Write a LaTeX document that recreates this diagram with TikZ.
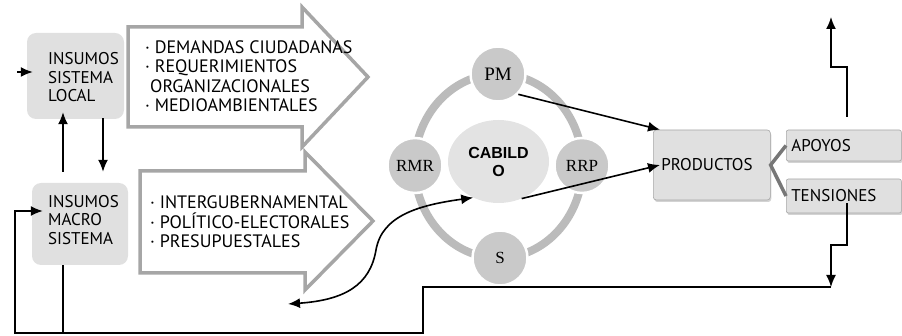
\documentclass[tikz,border=0pt]{standalone}
\usepackage{fontspec}
\setmainfont{PT Sans}
\newfontfamily\circfont{Liberation Serif}
\newfontfamily\cabfont{Liberation Sans}
\usetikzlibrary{arrows.meta,shadows,shapes.geometric}
\definecolor{boxgray}{HTML}{E0E0E0}
\definecolor{arrowgray}{HTML}{A6A6A6}
\definecolor{ringgray}{HTML}{BBBBBB}
\definecolor{circgray}{HTML}{C9C9C9}
\definecolor{ellgray}{HTML}{E3E3E3}
\definecolor{linkgray}{HTML}{777777}
\tikzset{
	insumo/.style={fill=boxgray, rounded corners=9pt, minimum width=97pt, minimum height=86pt, inner sep=0pt},
	lbl/.style={align=left, inner sep=0pt, font=\fontsize{17}{18.5}\selectfont},
	arrowlbl/.style={align=left, inner sep=0pt, font=\fontsize{18}{19.5}\selectfont},
	bigarrow/.style={draw=arrowgray, line width=3.5pt, fill=white, line join=miter},
	actor/.style={circle, fill=circgray, draw=white, line width=2.5pt, minimum size=55pt, inner sep=0pt, font=\circfont\fontsize{17}{17}\selectfont},
	outbox/.style={fill=boxgray, draw=gray!70, line width=0.6pt, rounded corners=3pt, align=left, inner xsep=5pt,
		font=\fontsize{17}{18.5}\selectfont, drop shadow={opacity=0.35, shadow xshift=1pt, shadow yshift=-2pt}},
	flecha/.style={-{Latex[length=12pt,width=10pt]}, line width=1.6pt},
}
\begin{document}
\begin{tikzpicture}[x=1pt,y=-1pt]
	\useasboundingbox (0,0) rectangle (902,336);
	% flechas grandes
	\draw[bigarrow] (128,27) -- (302,27) -- (302,7) -- (368,77) -- (302,147) -- (302,127) -- (128,127) -- cycle;
	\draw[bigarrow] (140,171) -- (305,171) -- (305,152) -- (373,221) -- (305,290) -- (305,273) -- (140,273) -- cycle;
	\node[arrowlbl, anchor=west] (demandas) at (145,76) {· DEMANDAS CIUDADANAS\\· REQUERIMIENTOS\\\hspace{5pt}ORGANIZACIONALES\\· MEDIOAMBIENTALES};
	\node[arrowlbl, anchor=west] (inter) at (150,222) {· INTERGUBERNAMENTAL\\· POLÍTICO-ELECTORALES\\· PRESUPUESTALES};

	% insumos
	\node[insumo] (local) at (75.5,76) {};
	\node[lbl, anchor=west] (localtxt) at (48,77.5) {INSUMOS\\SISTEMA\\LOCAL};
	\node[insumo, minimum width=96pt, minimum height=82pt] (macro) at (80,224) {};
	\node[lbl, anchor=west] (macrotxt) at (48,220) {INSUMOS\\MACRO\\SISTEMA};
	\coordinate (entrada) at (17,72);
	\draw[flecha] (entrada) -- ([xshift=6pt,yshift=4pt]local.west);
	\draw[flecha] ([xshift=-17pt,yshift=11pt]macro.north) -- ([xshift=-12.5pt,yshift=7pt]local.south);
	\draw[flecha] ([xshift=27.5pt,yshift=1pt]local.south) -- ([xshift=23pt,yshift=11pt]macro.north);

	% cabildo
	\draw[ringgray, line width=8pt] (498.5,166) ellipse [x radius=84pt, y radius=92pt];
	\node[ellipse, fill=ellgray, minimum width=101pt, minimum height=83pt, inner sep=0pt, align=center,
		font=\cabfont\bfseries\fontsize{16}{18}\selectfont] (cabildo) at (498.5,161.5) {CABILD\\O};
	\node[actor, font=\circfont\fontsize{19}{19}\selectfont] (pm) at (498,74) {PM};
	\node[actor] (rmr) at (415,165.5) {RMR};
	\node[actor] (rrp) at (582,165.5) {RRP};
	\node[actor] (s) at (500,258) {S};

	% productos
	\node[outbox, anchor=west, inner xsep=8pt, text width=101pt, minimum height=70pt] (prod) at (653,165) {PRODUCTOS};
	\node[outbox, anchor=west, text width=105pt, minimum height=31pt, rounded corners=2pt] (apoyos) at (786,145.5) {APOYOS};
	\node[outbox, anchor=west, text width=105pt, minimum height=34pt, rounded corners=2pt] (tensiones) at (786,196) {TENSIONES};
	\draw[linkgray, line width=3.5pt] (apoyos.west) -- (prod.east) -- (tensiones.west);

	\draw[flecha] (pm.-45) -- ([xshift=7pt]prod.north west);
	\draw[flecha] (cabildo.-58) -- ([xshift=7pt]prod.west);
	\coordinate (izq) at (288,304);
	\draw[{Latex[length=12pt,width=10pt]}-{Latex[length=12pt,width=10pt]}, line width=1.6pt]
		(izq) .. controls (345,300) and (370,285) .. (376,250) .. controls (382,215) and (420,205) .. (cabildo.-125);

	% retroalimentacion
	\coordinate (salida) at (831,17);
	\coordinate (codo) at (831,287);
	\draw[flecha] ([xshift=61pt,yshift=13pt]apoyos.north west) |- (831,67) -- (salida);
	\draw[flecha] ([xshift=61pt,yshift=10pt]tensiones.south west) |- (831,245) -- (codo);
	\draw[flecha] (codo) -- (423,287) -- (423,333) -- (15,333) |- ([xshift=11pt,yshift=13pt]macro.west);
	\draw[line width=1.6pt] ([xshift=-17pt]macro.south) -- (63,333);
\end{tikzpicture}
\end{document}
